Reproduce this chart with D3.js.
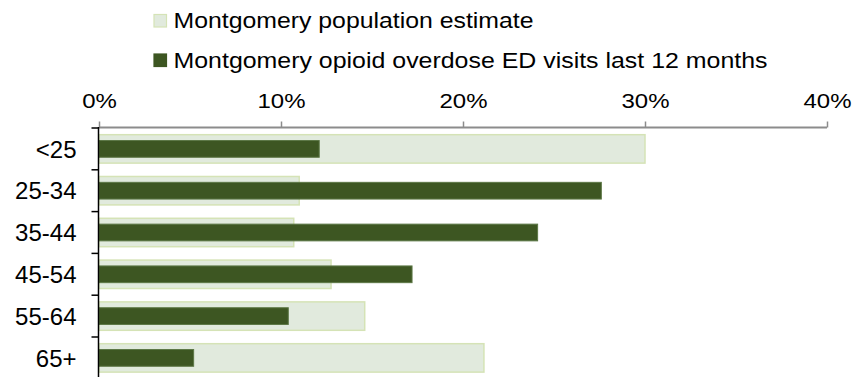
<!DOCTYPE html>
<html>
<head>
<meta charset="utf-8">
<script src="https://cdn.jsdelivr.net/npm/d3@7"></script>
<style>
  body { margin: 0; background: #fff; }
  svg { display: block; font-family: "Liberation Sans", Arial, sans-serif; }
</style>
</head>
<body>
<script>
const ageGroups = ['<25', '25-34', '35-44', '45-54', '55-64', '65+'];
const populationShare = [30.0, 11.0, 10.7, 12.75, 14.6, 21.15];
const overdoseShare = [12.1, 27.6, 24.1, 17.2, 10.4, 5.2];
const xTicks = [0, 10, 20, 30, 40];
const seriesNames = ['Montgomery population estimate', 'Montgomery opioid overdose ED visits last 12 months'];

(() => {
    const width = 852, height = 377;
    const plotLeft = 99, plotRight = 827, plotTop = 128, bandH = 41.8;
    // the source text is a little wider than Liberation Sans at the same height
    const legendWidths = [360, 594];

    const svg = d3.select('body').append('svg')
        .attr('width', width)
        .attr('height', height);

    const x = d3.scaleLinear().domain([0, 40]).range([plotLeft, plotRight]);
    const y = d3.scaleBand().domain(ageGroups).range([plotTop, plotTop + bandH * ageGroups.length]);

    const rows = ageGroups.map((g, i) => ({group: g, pop: populationShare[i], od: overdoseShare[i]}));

    // legend
    const legendColors = [{fill: '#e1eadd', stroke: '#d5e3b6'}, {fill: '#3d5622', stroke: '#3d5622'}];
    seriesNames.forEach((name, i) => {
        const base = 28 + i * 39.5;
        svg.append('rect')
            .attr('x', 154).attr('y', base - 13.5)
            .attr('width', 12.5).attr('height', 12.5)
            .attr('fill', legendColors[i].fill)
            .attr('stroke', legendColors[i].stroke)
            .attr('stroke-width', 1.2);
        svg.append('text')
            .attr('x', 173.5).attr('y', base)
            .attr('font-size', 21.5)
            .attr('textLength', legendWidths[i])
            .attr('lengthAdjust', 'spacingAndGlyphs')
            .attr('fill', '#000')
            .text(name);
    });

    // population bars
    svg.append('g').selectAll('rect')
        .data(rows)
        .join('rect')
        .attr('x', x(0))
        .attr('y', d => y(d.group) + y.bandwidth() * 0.16)
        .attr('width', d => x(d.pop) - x(0))
        .attr('height', y.bandwidth() * 0.68)
        .attr('fill', '#e1eadd')
        .attr('stroke', '#d5e3b6')
        .attr('stroke-width', 1.5);

    // overdose bars
    svg.append('g').selectAll('rect')
        .data(rows)
        .join('rect')
        .attr('x', x(0))
        .attr('y', d => y(d.group) + y.bandwidth() * 0.3)
        .attr('width', d => x(d.od) - x(0))
        .attr('height', y.bandwidth() * 0.4)
        .attr('fill', '#3d5622')
        .attr('stroke', '#5c7745')
        .attr('stroke-width', 1);

    // top axis
    const xAxis = svg.append('g')
        .attr('transform', `translate(0, ${plotTop - 0.5})`)
        .call(d3.axisTop(x).tickValues(xTicks).tickSize(6).tickPadding(14).tickFormat(d => d + '%'));
    xAxis.select('.domain').attr('stroke', '#8c8c8c').attr('stroke-width', 2)
        .attr('d', `M${plotLeft},0H${plotRight}`);
    xAxis.selectAll('.tick line').attr('stroke', '#8c8c8c').attr('stroke-width', 1.5);
    xAxis.selectAll('.tick text')
        .attr('font-size', 20.5)
        .attr('fill', '#000')
        .attr('font-family', '"Liberation Sans", Arial, sans-serif')
        .attr('transform', 'scale(1.17,1)');

    // left axis
    const yAxis = svg.append('g').attr('transform', `translate(${plotLeft - 0.5}, 0)`);
    yAxis.append('line')
        .attr('x1', 0).attr('x2', 0)
        .attr('y1', plotTop - 1).attr('y2', height)
        .attr('stroke', '#000').attr('stroke-width', 1.5);
    yAxis.selectAll('.cat-tick')
        .data(ageGroups)
        .join('line')
        .attr('class', 'cat-tick')
        .attr('x1', -7).attr('x2', 0)
        .attr('y1', d => y(d)).attr('y2', d => y(d))
        .attr('stroke', '#000').attr('stroke-width', 1.5);
    yAxis.selectAll('text')
        .data(ageGroups)
        .join('text')
        .attr('x', -22)
        .attr('y', d => y(d) + y.bandwidth() / 2)
        .attr('dy', '0.36em')
        .attr('text-anchor', 'end')
        .attr('font-size', 24)
        .attr('fill', '#000')
        .text(d => d);
})();
</script>
</body>
</html>
